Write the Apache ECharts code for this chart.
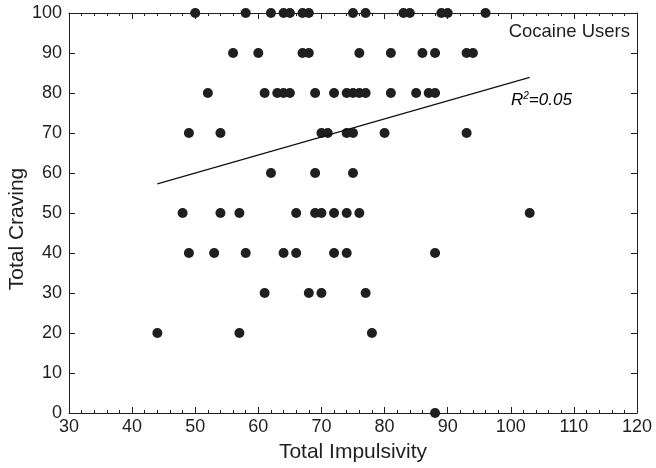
<!DOCTYPE html>
<html>
<head>
<meta charset="utf-8">
<script src="https://cdn.jsdelivr.net/npm/echarts@6/dist/echarts.min.js"></script>
<style>
  html, body { margin: 0; padding: 0; background: #fff; }
  #main { width: 656px; height: 468px; }
</style>
</head>
<body>
<div id="main"></div>
<script>
// craving scores (y) and the impulsivity values (x) read at each level
var row100 = [50, 58, 62, 64, 65, 67, 68, 75, 77, 83, 84, 89, 90, 96];
var row90 = [56, 60, 67, 68, 76, 81, 86, 88, 93, 94];
var row80 = [52, 61, 63, 64, 65, 69, 72, 74, 75, 76, 77, 81, 85, 87, 88];
var row70 = [49, 54, 70, 71, 74, 75, 80, 93];
var row60 = [62, 69, 75];
var row50 = [48, 54, 57, 66, 69, 70, 72, 74, 76, 103];
var row40 = [49, 53, 58, 64, 66, 72, 74, 88];
var row30 = [61, 68, 70, 77];
var row20 = [44, 57, 78];
var row0 = [88];

// fitted line end points
var fitX = [44, 103];
var fitY = [57.3, 83.9];

var rows = [
    [100, row100], [90, row90], [80, row80], [70, row70], [60, row60],
    [50, row50], [40, row40], [30, row30], [20, row20], [0, row0]
];

var points = [];
rows.forEach(function (r) {
    r[1].forEach(function (x) {
        points.push([x, r[0]]);
    });
});

var font = "'Liberation Sans', Arial, sans-serif";
var ink = '#1f1f1f';

var xAxisBase = function (pos) {
    return {
        type: 'value',
        position: pos,
        min: 30,
        max: 120,
        interval: 10,
        axisLine: { onZero: false, lineStyle: { color: ink, width: 1 } },
        axisTick: { show: true, inside: true, length: 6, lineStyle: { color: ink } },
        minorTick: { show: true, splitNumber: 5, length: 3, lineStyle: { color: ink } },
        splitLine: { show: false },
        axisLabel: { show: pos === 'bottom', color: ink, fontSize: 18, fontFamily: font, margin: 5 }
    };
};

var yAxisBase = function (pos) {
    return {
        type: 'value',
        position: pos,
        min: 0,
        max: 100,
        interval: 10,
        axisLine: { onZero: false, lineStyle: { color: ink, width: 1 } },
        axisTick: { show: true, inside: true, length: 6, lineStyle: { color: ink } },
        splitLine: { show: false },
        axisLabel: { show: pos === 'left', color: ink, fontSize: 18, fontFamily: font, margin: 7 }
    };
};

var xBottom = xAxisBase('bottom');
xBottom.name = 'Total Impulsivity';
xBottom.nameLocation = 'middle';
xBottom.nameGap = 29;
xBottom.nameTextStyle = { color: ink, fontSize: 21, fontFamily: font };

var option = {
    animation: false,
    backgroundColor: '#fff',
    grid: { left: 69, right: 19, top: 13, bottom: 55 },
    xAxis: [xBottom, xAxisBase('top')],
    yAxis: [yAxisBase('left'), yAxisBase('right')],
    graphic: [
        {
            // y axis title sits a little below the plot middle in the original
            type: 'text',
            x: 17,
            y: 229,
            rotation: Math.PI / 2,
            style: {
                text: 'Total Craving',
                fill: ink,
                font: '21px ' + font,
                textAlign: 'center',
                textVerticalAlign: 'middle'
            }
        },
        {
            type: 'text',
            right: 26,
            top: 22,
            style: { text: 'Cocaine Users', fill: ink, font: '18.5px ' + font }
        },
        {
            type: 'text',
            left: 511,
            top: 91,
            style: {
                text: '{i|R}{s|2}{i|=0.05}',
                rich: {
                    i: { fontStyle: 'italic', fontSize: 17, fontFamily: font, color: ink },
                    s: { fontStyle: 'italic', fontSize: 10, fontFamily: font, verticalAlign: 'top', padding: [0, 0, 8, 0], color: ink }
                }
            }
        }
    ],
    series: [
        {
            type: 'line',
            data: [[fitX[0], fitY[0]], [fitX[1], fitY[1]]],
            showSymbol: false,
            symbol: 'none',
            lineStyle: { color: '#111', width: 1.2 },
            silent: true
        },
        {
            type: 'scatter',
            data: points,
            symbolSize: 10,
            clip: false,
            itemStyle: { color: ink, opacity: 1 }
        }
    ]
};

var chart = echarts.init(document.getElementById('main'), null, { renderer: 'canvas' });
chart.setOption(option);
</script>
</body>
</html>
